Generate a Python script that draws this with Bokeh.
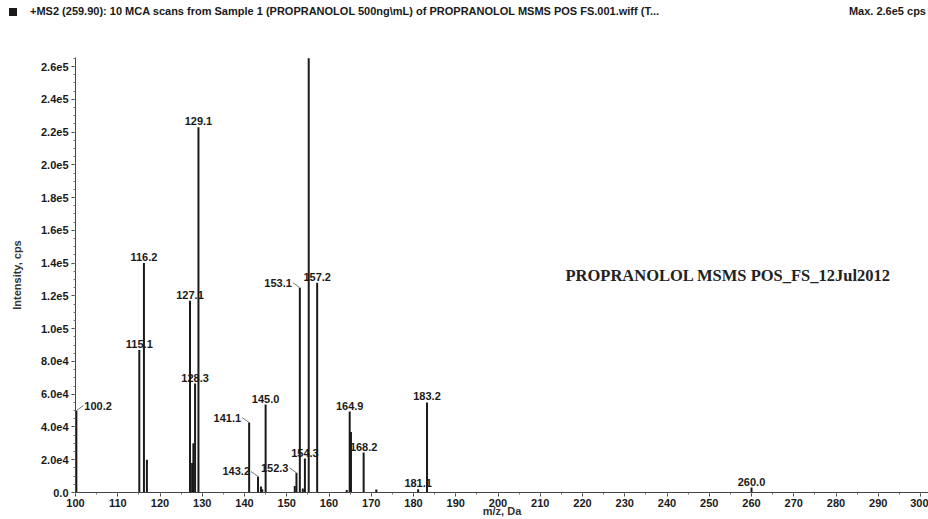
from bokeh.plotting import figure
from bokeh.layouts import column
from bokeh.models import ColumnDataSource, FixedTicker, Label, Range1d, Div
from bokeh.core.properties import value
from bokeh.embed import file_html
from bokeh.resources import INLINE

# ---------------- data ----------------
peak_mz = [100.2, 115.1, 116.2, 116.9, 127.1, 127.6, 127.9, 128.3, 129.1,
           141.1, 143.2, 143.9, 144.2, 145.0, 151.9, 152.3, 153.1, 153.8,
           154.3, 155.2, 157.2, 164.2, 164.9, 165.2, 168.2, 171.2, 181.1,
           183.2, 260.0]
peak_int = [5.0e4, 8.7e4, 1.40e5, 2.0e4, 1.17e5, 1.8e4, 3.0e4, 6.65e4, 2.23e5,
            4.27e4, 9.8e3, 3.7e3, 2.0e3, 5.37e4, 4.0e3, 1.2e4, 1.25e5, 2.5e3,
            2.07e4, 2.65e5, 1.28e5, 1.5e3, 4.94e4, 3.7e4, 2.44e4, 1.8e3, 2.0e3,
            5.5e4, 3.0e3]

label_mz = [100.2, 115.1, 116.2, 127.1, 128.3, 129.1, 141.1, 143.2, 145.0,
            152.3, 153.1, 154.3, 155.2, 157.2, 164.9, 168.2, 181.1, 183.2, 260.0]
label_int = [5.0e4, 8.7e4, 1.40e5, 1.17e5, 6.65e4, 2.23e5, 4.27e4, 9.8e3, 5.37e4,
             1.2e4, 1.25e5, 2.07e4, 2.65e5, 1.28e5, 4.94e4, 2.44e4, 2.0e3, 5.5e4, 3.0e3]
label_text = ["100.2", "115.1", "116.2", "127.1", "128.3", "129.1", "141.1", "143.2",
              "145.0", "152.3", "153.1", "154.3", "155.2", "157.2", "164.9", "168.2",
              "181.1", "183.2", "260.0"]
label_side = ["right", "center", "center", "center", "center", "center", "left", "left",
              "center", "left", "left", "center", "center", "center", "center", "center",
              "center", "center", "center"]

x_ticks = list(range(100, 301, 10))
y_ticks = [0, 2e4, 4e4, 6e4, 8e4, 1e5, 1.2e5, 1.4e5, 1.6e5, 1.8e5, 2.0e5, 2.2e5, 2.4e5, 2.6e5]
y_tick_labels = ["0.0", "2.0e4", "4.0e4", "6.0e4", "8.0e4", "1.0e5", "1.2e5", "1.4e5",
                 "1.6e5", "1.8e5", "2.0e5", "2.2e5", "2.4e5", "2.6e5"]

title_text = ("+MS2 (259.90): 10 MCA scans from Sample 1 (PROPRANOLOL 500ng\\mL) of "
              "PROPRANOLOL MSMS POS FS.001.wiff (T...")
max_text = "Max. 2.6e5 cps"
stamp_text = "PROPRANOLOL MSMS POS_FS_12Jul2012"
x_label = "m/z, Da"
y_label = "Intensity, cps"

# ---------------- layout ----------------
W = 928
HH = 24                      # header strip
H = 519 - HH
BL, BR, BT, BB = 75, 0, 57 - HH, 26
FW, FH = W - BL - BR, H - BT - BB
X0, X1 = 100, 100 + FW / 4.225
Y0, Y1 = 0, 2.655e5
px_x = (X1 - X0) / FW   # data units per pixel
px_y = (Y1 - Y0) / FH

SANS = "Liberation Sans"
INK = "#1a1a1a"

# header with the run description (HTML text strip above the plot)
header = Div(
    text=(
        '<div style="display:flex;align-items:center;width:928px;height:24px;'
        "font-family:'Liberation Sans',Arial,sans-serif;font-size:11px;font-weight:bold;"
        f'color:{INK};white-space:nowrap;">'
        f'<span style="display:inline-block;width:8px;height:8px;background:{INK};'
        'margin-left:9px;margin-right:13px;"></span>'
        f'<span>{title_text}</span>'
        f'<span style="margin-left:auto;margin-right:2px;">{max_text}</span>'
        '</div>'
    ),
    width=W, height=HH, margin=(0, 0, 0, 0),
)

p = figure(width=W, height=H, x_range=Range1d(X0, X1), y_range=Range1d(Y0, Y1),
           output_backend="svg", toolbar_location=None,
           min_border_left=BL, min_border_right=BR, min_border_top=BT, min_border_bottom=BB)
p.outline_line_color = None
p.xgrid.grid_line_color = None
p.ygrid.grid_line_color = None

# bars
src = ColumnDataSource(dict(x=peak_mz, y=peak_int, y0=[0] * len(peak_mz)))
p.segment(x0="x", y0="y0", x1="x", y1="y", source=src, line_color=INK, line_width=2)

# peak labels
cx, cy, ct = [], [], []
lx, ly, lt = [], [], []
rx, ry, rt = [], [], []
lead_x0, lead_y0, lead_x1, lead_y1 = [], [], [], []
for m, v, t, s in zip(label_mz, label_int, label_text, label_side):
    if s == "center":
        cx.append(m); cy.append(v); ct.append(t)
    elif s == "left":
        lx.append(m); ly.append(v); lt.append(t)
        lead_x0.append(m); lead_y0.append(v)
        lead_x1.append(m - 7 * px_x); lead_y1.append(v + 5 * px_y)
    else:
        rx.append(m); ry.append(v); rt.append(t)
        lead_x0.append(m); lead_y0.append(v)
        lead_x1.append(m + 7 * px_x); lead_y1.append(v + 5 * px_y)

p.segment(x0=lead_x0, y0=lead_y0, x1=lead_x1, y1=lead_y1, line_color="#777777", line_width=1)

lab_kw = dict(text_font=value(SANS), text_font_size="11px", text_font_style="bold",
              text_color=INK)
p.text(x=cx, y=cy, text=ct, text_align="center", text_baseline="bottom", y_offset=-2, **lab_kw)
p.text(x=lx, y=ly, text=lt, text_align="right", text_baseline="middle",
       x_offset=-8, y_offset=-5, **lab_kw)
p.text(x=rx, y=ry, text=rt, text_align="left", text_baseline="middle",
       x_offset=8, y_offset=-5, **lab_kw)

# axes
xa = p.xaxis[0]
xa.ticker = FixedTicker(ticks=x_ticks, minor_ticks=list(range(100, 301, 5)))
xa.axis_label = x_label
xa.axis_label_standoff = -5
xa.major_label_standoff = 2
ya = p.yaxis[0]
ya.ticker = FixedTicker(ticks=y_ticks, minor_ticks=[i * 5000 for i in range(0, 54)])
ya.major_label_overrides = {t: l for t, l in zip(y_ticks, y_tick_labels)}
ya.axis_label = y_label
ya.axis_label_standoff = 15
ya.major_label_standoff = 3
for ax in (xa, ya):
    ax.axis_label_text_font = SANS
    ax.axis_label_text_font_size = "11px"
    ax.axis_label_text_font_style = "bold"
    ax.axis_label_text_color = "#333333"
    ax.axis_line_color = "#444444"
    ax.major_tick_line_color = "#444444"
    ax.minor_tick_line_color = "#777777"
    ax.major_tick_out = 4
    ax.major_tick_in = 0
    ax.minor_tick_out = 2
    ax.minor_tick_in = 0
    ax.major_label_text_font = SANS
    ax.major_label_text_font_size = "11px"
    ax.major_label_text_font_style = "bold"
    ax.major_label_text_color = INK

# stamp written on the printout
p.add_layout(Label(x=490, y=217, x_units="screen", y_units="screen", text=stamp_text,
                   text_font="Liberation Serif", text_font_size="16.5px", text_font_style="bold",
                   text_baseline="middle", text_align="left", text_color="#222222"))

layout = column(header, p, spacing=0)
open("out.html", "w").write(file_html(layout, INLINE))
